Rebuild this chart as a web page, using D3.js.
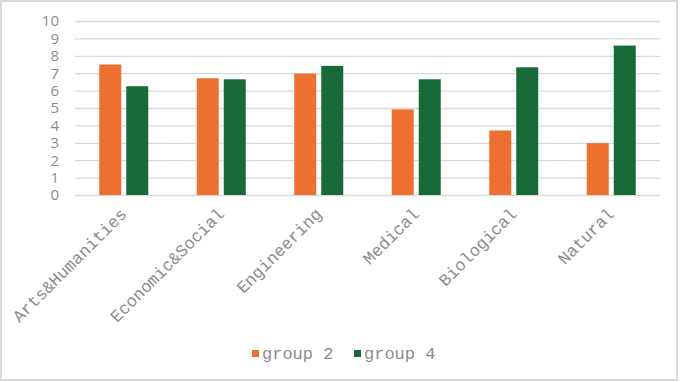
<!DOCTYPE html>
<html>
<head>
<meta charset="utf-8">
<script src="https://cdn.jsdelivr.net/npm/d3@7"></script>
<style>
  html, body { margin: 0; padding: 0; background: #fff; }
  svg { display: block; }
</style>
</head>
<body>
<svg id="chart" width="680" height="382"></svg>
<script>
const categories = ['Arts&Humanities', 'Economic&Social', 'Engineering', 'Medical', 'Biological', 'Natural'];
const seriesNames = ['group 2', 'group 4'];
const group2 = [7.5, 6.71, 6.98, 4.92, 3.71, 2.98];
const group4 = [6.25, 6.65, 7.42, 6.65, 7.34, 8.59];
const yTicks = [0, 1, 2, 3, 4, 5, 6, 7, 8, 9, 10];
const colors = ['#ED7030', '#186B38'];

const W = 680, H = 382;
const m = {left: 75, right: 20, top: 21, bottom: 187};

const svg = d3.select('#chart');

// cadre gris
svg.append('rect')
    .attr('x', 1).attr('y', 1)
    .attr('width', W - 4).attr('height', H - 3)
    .attr('fill', '#fff')
    .attr('stroke', '#d9d9d9').attr('stroke-width', 2);

const x = d3.scaleBand().domain(categories).range([m.left, W - m.right]);
const y = d3.scaleLinear().domain([0, 10]).range([H - m.bottom, m.top]);

const barW = 22, gap = 5;
const xs = d3.scaleOrdinal().domain(seriesNames)
    .range([-(barW + gap / 2), gap / 2]);

// grille + graduations
const yAxis = svg.append('g')
    .attr('transform', `translate(${m.left},0)`)
    .call(d3.axisLeft(y).tickValues(yTicks).tickSize(-(W - m.left - m.right)).tickPadding(16));
yAxis.select('.domain').remove();
yAxis.selectAll('.tick line').attr('stroke', '#d9d9d9').attr('stroke-width', 1.3);
yAxis.selectAll('.tick text')
    .attr('fill', '#8c8c8c')
    .style('font-family', '"Open Sans", sans-serif')
    .style('font-size', '15px');

// barres
const data = categories.map((c, i) => ({cat: c, vals: [group2[i], group4[i]]}));
const groups = svg.append('g').selectAll('g')
    .data(data).join('g')
    .attr('transform', d => `translate(${x(d.cat) + x.bandwidth() / 2},0)`);
groups.selectAll('rect')
    .data(d => d.vals.map((v, j) => ({name: seriesNames[j], v: v, j: j})))
    .join('rect')
    .attr('x', d => xs(d.name))
    .attr('width', barW)
    .attr('y', d => y(d.v))
    .attr('height', d => y(0) - y(d.v))
    .attr('fill', d => colors[d.j]);

// étiquettes catégories
const xAxis = svg.append('g')
    .attr('transform', `translate(0,${y(0)})`)
    .call(d3.axisBottom(x).tickSize(0).tickPadding(0));
xAxis.select('.domain').remove();
xAxis.selectAll('.tick text')
    .attr('fill', '#8c8c8c')
    .style('font-family', '"Liberation Mono", monospace')
    .style('font-size', '17px')
    .attr('text-anchor', 'end')
    .attr('dy', 0)
    .attr('transform', 'translate(4,20) rotate(-45)');

// légende
const legend = svg.append('g').attr('transform', 'translate(252,359)');
const lx = [0, 102];
seriesNames.forEach((s, i) => {
    legend.append('rect')
        .attr('x', lx[i]).attr('y', -9)
        .attr('width', 7).attr('height', 7)
        .attr('fill', colors[i]);
    legend.append('text')
        .attr('x', lx[i] + 10).attr('y', 0)
        .attr('fill', '#8c8c8c')
        .style('font-family', '"Liberation Mono", monospace')
        .style('font-size', '17px')
        .text(s);
});
</script>
</body>
</html>
